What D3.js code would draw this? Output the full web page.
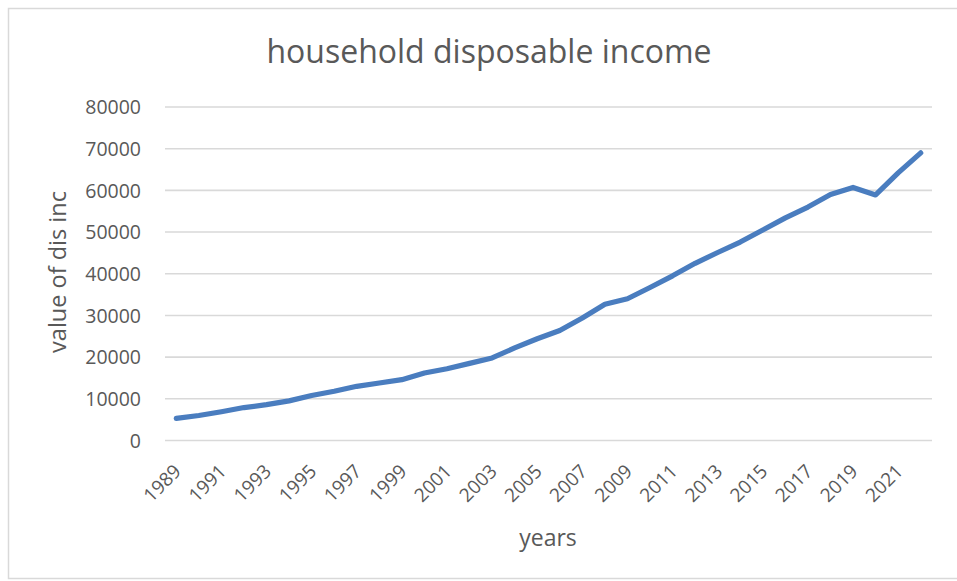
<!DOCTYPE html>
<html>
<head>
<meta charset="utf-8">
<script src="https://cdn.jsdelivr.net/npm/d3@7/dist/d3.min.js"></script>
<style>
  html, body { margin: 0; padding: 0; background: #fff; }
  svg { display: block; }
  text { font-family: "Open Sans", "Noto Sans", sans-serif; fill: #595959; }
</style>
</head>
<body>
<svg id="chart" width="957" height="581"></svg>
<script>
// Household disposable income by year
const years = [
  1989, 1990, 1991, 1992, 1993, 1994, 1995, 1996, 1997, 1998, 1999,
  2000, 2001, 2002, 2003, 2004, 2005, 2006, 2007, 2008, 2009, 2010,
  2011, 2012, 2013, 2014, 2015, 2016, 2017, 2018, 2019, 2020, 2021, 2022
];
const income = [
  5300, 6000, 6900, 7900, 8600, 9500, 10800, 11800, 13000, 13800, 14600,
  16200, 17200, 18500, 19800, 22200, 24400, 26400, 29400, 32700, 34000, 36700,
  39500, 42500, 45100, 47600, 50500, 53400, 56000, 59000, 60700, 58900, 64200, 69000
];
const yTicks = [0, 10000, 20000, 30000, 40000, 50000, 60000, 70000, 80000];
const xLabelYears = years.filter((d, i) => i % 2 === 0);

const titleText = "household disposable income";
const xTitle = "years";
const yTitle = "value of dis inc";

const svg = d3.select("#chart");
const W = 957, H = 581;
const margin = { left: 165, right: 25, top: 107, bottom: 140.5 };

// chart frame
svg.append("rect")
  .attr("x", 8.5).attr("y", 8.5)
  .attr("width", W + 10).attr("height", H - 11)
  .attr("fill", "#fff")
  .attr("stroke", "#d9d9d9").attr("stroke-width", 1.5);

const x = d3.scaleBand()
  .domain(years)
  .range([margin.left, W - margin.right]);

const y = d3.scaleLinear()
  .domain([0, 80000])
  .range([H - margin.bottom, margin.top]);

// horizontal gridlines
svg.append("g")
  .selectAll("line")
  .data(yTicks)
  .join("line")
  .attr("x1", margin.left).attr("x2", W - margin.right)
  .attr("y1", d => y(d)).attr("y2", d => y(d))
  .attr("stroke", "#d9d9d9").attr("stroke-width", 1.6);

// y axis labels
const yAxis = d3.axisLeft(y).tickValues(yTicks).tickSize(0).tickPadding(0)
  .tickFormat(d3.format("d"));
svg.append("g")
  .attr("transform", `translate(${margin.left - 24},0)`)
  .call(yAxis)
  .call(g => g.select(".domain").remove())
  .selectAll("text")
  .attr("font-size", 19.5)
  .attr("fill", "#595959")
  .attr("font-family", "'Open Sans', 'Noto Sans', sans-serif")
  .attr("dy", "0.35em");

// x axis labels, rotated
const xAxis = d3.axisBottom(x).tickValues(xLabelYears).tickSize(0).tickPadding(0);
svg.append("g")
  .attr("transform", `translate(0,${H - margin.bottom})`)
  .call(xAxis)
  .call(g => g.select(".domain").remove())
  .selectAll("text")
  .attr("font-size", 19)
  .attr("fill", "#595959")
  .attr("font-family", "'Open Sans', 'Noto Sans', sans-serif")
  .attr("text-anchor", "end")
  .attr("dy", null)
  .attr("y", 0)
  .attr("transform", "translate(6,32) rotate(-45)");

// data line
const line = d3.line()
  .x((d, i) => x(years[i]) + x.bandwidth() / 2)
  .y(d => y(d));

svg.append("path")
  .datum(income)
  .attr("d", line)
  .attr("fill", "none")
  .attr("stroke", "#4a7dbf")
  .attr("stroke-width", 5.2)
  .attr("stroke-linejoin", "round")
  .attr("stroke-linecap", "round");

// titles
svg.append("text")
  .attr("x", 489).attr("y", 63)
  .attr("text-anchor", "middle")
  .attr("font-size", 32)
  .text(titleText);

svg.append("text")
  .attr("x", 548).attr("y", 546)
  .attr("text-anchor", "middle")
  .attr("font-size", 23)
  .text(xTitle);

svg.append("text")
  .attr("transform", "translate(66,272) rotate(-90)")
  .attr("text-anchor", "middle")
  .attr("font-size", 23.5)
  .text(yTitle);
</script>
</body>
</html>
